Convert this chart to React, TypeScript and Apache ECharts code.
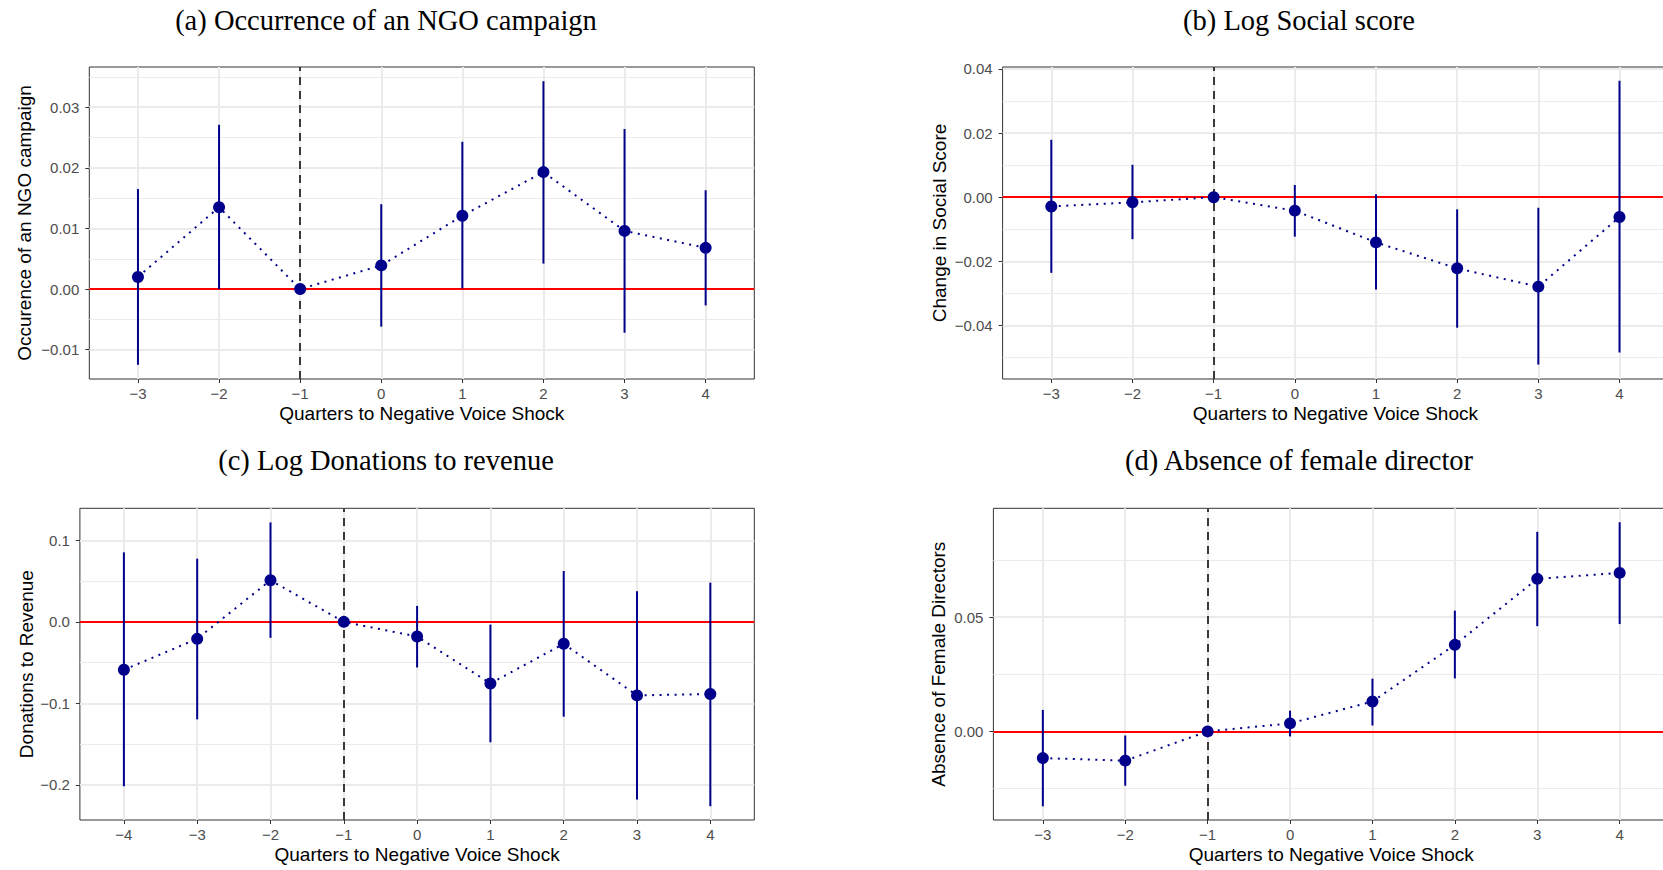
import React, { useEffect, useRef } from "react";
import * as echarts from "echarts";

// Event-study estimates with 95% confidence bounds, by quarter relative to the shock.
const quartersA = [-3, -2, -1, 0, 1, 2, 3, 4];
const estA = [0.002, 0.0135, 0, 0.0039, 0.0121, 0.0193, 0.0096, 0.0068];
const lowA = [-0.0125, 0.0, 0, -0.0062, 0.0001, 0.0042, -0.0072, -0.0027];
const highA = [0.0165, 0.0271, 0, 0.014, 0.0243, 0.0343, 0.0264, 0.0163];

const quartersB = [-3, -2, -1, 0, 1, 2, 3, 4];
const estB = [-0.0029, -0.0016, 0, -0.0042, -0.0141, -0.0222, -0.0279, -0.0062];
const lowB = [-0.0236, -0.0131, 0, -0.0123, -0.0288, -0.0407, -0.0522, -0.0484];
const highB = [0.0179, 0.0101, 0, 0.0038, 0.0009, -0.0038, -0.0033, 0.0363];

const quartersC = [-4, -3, -2, -1, 0, 1, 2, 3, 4];
const estC = [-0.0588, -0.0208, 0.051, 0, -0.018, -0.0755, -0.0269, -0.0902, -0.0885];
const lowC = [-0.2016, -0.1196, -0.0196, 0, -0.0559, -0.1477, -0.1163, -0.2179, -0.2261];
const highC = [0.0853, 0.0775, 0.122, 0, 0.0196, -0.0033, 0.0624, 0.0376, 0.0481];

const quartersD = [-3, -2, -1, 0, 1, 2, 3, 4];
const estD = [-0.0117, -0.0128, 0, 0.0035, 0.0131, 0.0379, 0.0668, 0.0694];
const lowD = [-0.0328, -0.0238, 0, -0.0022, 0.0026, 0.0232, 0.0461, 0.047];
const highD = [0.0094, -0.0018, 0, 0.0091, 0.0231, 0.0529, 0.0874, 0.0916];

// Axis ticks and limits
const yTicksA = [-0.01, 0, 0.01, 0.02, 0.03];
const yMinorA = [-0.005, 0.005, 0.015, 0.025, 0.035];
const yTicksB = [-0.04, -0.02, 0, 0.02, 0.04];
const yMinorB = [-0.05, -0.03, -0.01, 0.01, 0.03];
const yTicksC = [-0.2, -0.1, 0, 0.1];
const yMinorC = [-0.15, -0.05, 0.05];
const yTicksD = [0, 0.05];
const yMinorD = [-0.025, 0.025, 0.075];

const titles = [
  "(a) Occurrence of an NGO campaign",
  "(b) Log Social score",
  "(c) Log Donations to revenue",
  "(d) Absence of female director",
];
const yNames = [
  "Occurence of an NGO campaign",
  "Change in Social Score",
  "Donations to Revenue",
  "Absence of Female Directors",
];
const xName = "Quarters to Negative Voice Shock";
const eventQuarter = -1;

const panels = [
  { q: quartersA, est: estA, low: lowA, high: highA, ticks: yTicksA, minor: yMinorA, yMin: -0.01484, yMax: 0.03664, dec: 2 },
  { q: quartersB, est: estB, low: lowB, high: highB, ticks: yTicksB, minor: yMinorB, yMin: -0.0567, yMax: 0.0406, dec: 2 },
  { q: quartersC, est: estC, low: lowC, high: highC, ticks: yTicksC, minor: yMinorC, yMin: -0.243, yMax: 0.1393, dec: 1 },
  { q: quartersD, est: estD, low: lowD, high: highD, ticks: yTicksD, minor: yMinorD, yMin: -0.0388, yMax: 0.0977, dec: 2 },
];

// Layout of the four panels (pixels); the right-hand panels run past the page edge
const layout = [
  { left: 89.3, top: 67, width: 665, height: 312, titleX: 386, titleY: 20, yGap: 55 },
  { left: 1002.6, top: 67, width: 665.6, height: 312, titleX: 1299, titleY: 20, yGap: 53.5 },
  { left: 79.9, top: 508.3, width: 674.4, height: 311.7, titleX: 386, titleY: 460, yGap: 44 },
  { left: 993.4, top: 508.3, width: 675.7, height: 311.7, titleX: 1299, titleY: 460, yGap: 45.5 },
];

const NAVY = "#00008B";
const SANS = '"Liberation Sans", Arial, sans-serif';
const SERIF = '"Liberation Serif", "Times New Roman", serif';

const fmt = (v: number, d: number) => {
  const r = Number(v.toFixed(d));
  return (r < 0 ? "\u2212" : "") + Math.abs(r).toFixed(d);
};

function buildOption() {
  const grid: any[] = [];
  const xAxis: any[] = [];
  const yAxis: any[] = [];
  const series: any[] = [];
  const graphic: any[] = [];

  panels.forEach((p, i) => {
    const L = layout[i];
    const xMin = p.q[0] - 0.6;
    const xMax = p.q[p.q.length - 1] + 0.6;
    grid.push({
      left: L.left,
      top: L.top,
      width: L.width,
      height: L.height,
      show: true,
      borderColor: "#333333",
      borderWidth: 1,
      backgroundColor: "transparent",
    });
    xAxis.push({
      type: "value",
      gridIndex: i,
      min: xMin,
      max: xMax,
      name: xName,
      nameLocation: "middle",
      nameGap: 25,
      nameTextStyle: { color: "#000", fontSize: 19, fontFamily: SANS },
      axisLine: { show: false, onZero: false },
      axisTick: { show: true, customValues: p.q, length: 4, lineStyle: { color: "#333333", width: 1 } },
      axisLabel: {
        customValues: p.q,
        formatter: (v: number) => fmt(v, 0),
        color: "#4d4d4d",
        fontSize: 15,
        fontFamily: SANS,
        margin: 7,
      },
      splitLine: { show: true, lineStyle: { color: "#ebebeb", width: 2 } },
    });
    yAxis.push({
      type: "value",
      gridIndex: i,
      min: p.yMin,
      max: p.yMax,
      name: yNames[i],
      nameLocation: "middle",
      nameGap: L.yGap,
      nameTextStyle: { color: "#000", fontSize: 19, fontFamily: SANS },
      axisLine: { show: false, onZero: false },
      axisTick: { show: true, customValues: p.ticks, length: 4, lineStyle: { color: "#333333", width: 1 } },
      axisLabel: {
        customValues: p.ticks,
        formatter: (v: number) => fmt(v, p.dec),
        color: "#4d4d4d",
        fontSize: 15,
        fontFamily: SANS,
        margin: 10,
      },
      splitLine: { show: true, lineStyle: { color: "#ebebeb", width: 2 } },
    });
    // minor horizontal grid lines
    yAxis.push({
      type: "value",
      gridIndex: i,
      min: p.yMin,
      max: p.yMax,
      axisLine: { show: false, onZero: false },
      axisTick: { show: false, customValues: p.minor },
      axisLabel: { show: false, customValues: p.minor },
      splitLine: { show: true, lineStyle: { color: "#ebebeb", width: 1 } },
    });

    series.push({
      type: "custom",
      xAxisIndex: i,
      yAxisIndex: 2 * i,
      silent: true,
      z: 3,
      encode: { x: 0, y: [1, 2] },
      data: p.q.map((x, k) => [x, p.low[k], p.high[k]]),
      renderItem: (_params: any, api: any) => {
        const a = api.coord([api.value(0), api.value(1)]);
        const b = api.coord([api.value(0), api.value(2)]);
        return {
          type: "line",
          shape: { x1: a[0], y1: a[1], x2: b[0], y2: b[1] },
          style: { stroke: NAVY, lineWidth: 2 },
        };
      },
      markLine: {
        silent: true,
        symbol: "none",
        z: 2,
        label: { show: false },
        animation: false,
        data: [
          { yAxis: 0, lineStyle: { color: "#ff0000", width: 2, type: "solid" } },
          { xAxis: eventQuarter, lineStyle: { color: "#000000", width: 1.5, type: [8, 6] } },
        ],
      },
    });
    series.push({
      type: "line",
      xAxisIndex: i,
      yAxisIndex: 2 * i,
      silent: true,
      z: 4,
      data: p.q.map((x, k) => [x, p.est[k]]),
      symbol: "circle",
      symbolSize: 12,
      showSymbol: true,
      itemStyle: { color: NAVY },
      lineStyle: { color: NAVY, width: 2, type: [2, 5.5] },
    });

    graphic.push({
      type: "text",
      x: L.titleX,
      y: L.titleY,
      style: {
        text: titles[i],
        align: "center",
        verticalAlign: "middle",
        fill: "#000",
        font: `28.5px ${SERIF}`,
      },
    });
  });

  return { animation: false, backgroundColor: "#ffffff", grid, xAxis, yAxis, series, graphic };
}

export default function App() {
  const ref = useRef<HTMLDivElement>(null);
  useEffect(() => {
    if (!ref.current) return;
    const chart = echarts.init(ref.current, undefined, { renderer: "svg" });
    chart.setOption(buildOption() as any);
    return () => chart.dispose();
  }, []);
  return (
    <div style={{ position: "absolute", left: 0, top: 0, width: 1663, height: 870, overflow: "hidden" }}>
      <div ref={ref} style={{ width: 1700, height: 870 }} />
    </div>
  );
}
